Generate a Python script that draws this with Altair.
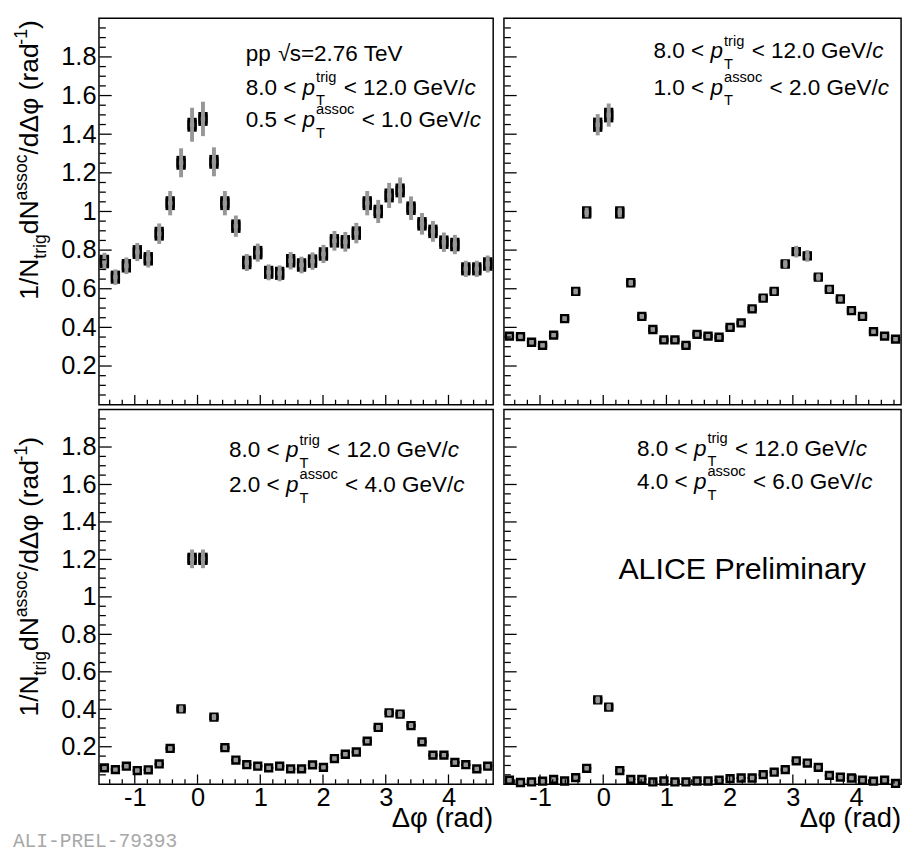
import altair as alt
import pandas as pd

PI = 3.141592653589793

# ---------------- data ----------------
dphi = [-1.484, -1.309, -1.134, -0.960, -0.785, -0.611, -0.436, -0.262, -0.087,
        0.087, 0.262, 0.436, 0.611, 0.785, 0.960, 1.134, 1.309, 1.484,
        1.658, 1.833, 2.007, 2.182, 2.356, 2.531, 2.705, 2.880, 3.054,
        3.229, 3.403, 3.578, 3.752, 3.927, 4.102, 4.276, 4.451, 4.625]

# panel 1: 0.5 < pT assoc < 1.0
y_1 = [0.741, 0.660, 0.719, 0.790, 0.755, 0.885, 1.043, 1.252, 1.449,
       1.479, 1.257, 1.043, 0.924, 0.736, 0.787, 0.685, 0.680, 0.745,
       0.723, 0.743, 0.780, 0.848, 0.843, 0.888, 1.043, 1.000, 1.083,
       1.109, 1.017, 0.936, 0.897, 0.841, 0.829, 0.703, 0.703, 0.728]
stat_1 = [0.035, 0.034, 0.035, 0.036, 0.035, 0.036, 0.036, 0.036, 0.036,
          0.036, 0.036, 0.036, 0.035, 0.035, 0.035, 0.034, 0.034, 0.035,
          0.035, 0.035, 0.035, 0.035, 0.035, 0.035, 0.036, 0.035, 0.036,
          0.036, 0.035, 0.035, 0.035, 0.035, 0.035, 0.034, 0.034, 0.035]
sys_1 = [0.045, 0.040, 0.043, 0.047, 0.045, 0.053, 0.063, 0.075, 0.088,
         0.089, 0.075, 0.063, 0.055, 0.044, 0.047, 0.041, 0.041, 0.045,
         0.043, 0.045, 0.047, 0.051, 0.051, 0.053, 0.063, 0.060, 0.065,
         0.067, 0.061, 0.056, 0.054, 0.050, 0.050, 0.042, 0.042, 0.044]

# panel 2: 1.0 < pT assoc < 2.0
y_2 = [0.355, 0.352, 0.323, 0.307, 0.360, 0.445, 0.586, 0.995, 1.449,
       1.499, 0.995, 0.631, 0.457, 0.389, 0.335, 0.335, 0.307, 0.364,
       0.355, 0.349, 0.400, 0.423, 0.496, 0.552, 0.586, 0.728, 0.792,
       0.770, 0.660, 0.597, 0.547, 0.487, 0.457, 0.378, 0.355, 0.339]
stat_2 = [0.012, 0.012, 0.012, 0.012, 0.012, 0.013, 0.015, 0.032, 0.037,
          0.038, 0.032, 0.015, 0.013, 0.012, 0.012, 0.012, 0.012, 0.012,
          0.012, 0.012, 0.012, 0.012, 0.013, 0.014, 0.015, 0.020, 0.022,
          0.022, 0.016, 0.015, 0.014, 0.013, 0.013, 0.012, 0.012, 0.012]
sys_2 = [0.010, 0.010, 0.010, 0.010, 0.010, 0.012, 0.015, 0.025, 0.055,
         0.060, 0.025, 0.015, 0.012, 0.010, 0.010, 0.010, 0.010, 0.010,
         0.010, 0.010, 0.010, 0.010, 0.012, 0.014, 0.015, 0.020, 0.030,
         0.030, 0.018, 0.015, 0.014, 0.012, 0.012, 0.010, 0.010, 0.010]

# panel 3: 2.0 < pT assoc < 4.0
y_3 = [0.087, 0.078, 0.096, 0.073, 0.077, 0.108, 0.191, 0.402, 1.203,
       1.203, 0.358, 0.195, 0.129, 0.104, 0.096, 0.087, 0.096, 0.082,
       0.082, 0.103, 0.090, 0.137, 0.160, 0.172, 0.230, 0.303, 0.381,
       0.374, 0.313, 0.226, 0.155, 0.155, 0.116, 0.104, 0.082, 0.096]
stat_3 = [0.006, 0.006, 0.006, 0.006, 0.006, 0.007, 0.009, 0.015, 0.033,
          0.033, 0.015, 0.009, 0.007, 0.006, 0.006, 0.006, 0.006, 0.006,
          0.006, 0.006, 0.006, 0.007, 0.008, 0.008, 0.009, 0.010, 0.012,
          0.012, 0.010, 0.009, 0.008, 0.008, 0.007, 0.006, 0.006, 0.006]
sys_3 = [0.006, 0.006, 0.006, 0.006, 0.006, 0.007, 0.010, 0.018, 0.050,
         0.050, 0.016, 0.010, 0.007, 0.006, 0.006, 0.006, 0.006, 0.006,
         0.006, 0.006, 0.006, 0.008, 0.009, 0.009, 0.011, 0.013, 0.016,
         0.016, 0.013, 0.011, 0.009, 0.009, 0.007, 0.006, 0.006, 0.006]

# panel 4: 4.0 < pT assoc < 6.0
y_4 = [0.021, 0.009, 0.012, 0.016, 0.026, 0.017, 0.035, 0.085, 0.450,
       0.412, 0.073, 0.026, 0.026, 0.012, 0.017, 0.012, 0.012, 0.017,
       0.017, 0.021, 0.030, 0.033, 0.033, 0.051, 0.064, 0.078, 0.125,
       0.113, 0.090, 0.047, 0.038, 0.033, 0.021, 0.016, 0.021, 0.004]
stat_4 = [0.004, 0.004, 0.004, 0.004, 0.004, 0.004, 0.005, 0.006, 0.015,
          0.015, 0.006, 0.004, 0.004, 0.004, 0.004, 0.004, 0.004, 0.004,
          0.004, 0.004, 0.004, 0.004, 0.004, 0.005, 0.005, 0.006, 0.007,
          0.007, 0.006, 0.005, 0.004, 0.004, 0.004, 0.004, 0.004, 0.004]
sys_4 = [0.004, 0.004, 0.004, 0.004, 0.004, 0.004, 0.005, 0.007, 0.018,
         0.017, 0.006, 0.004, 0.004, 0.004, 0.004, 0.004, 0.004, 0.004,
         0.004, 0.004, 0.004, 0.004, 0.004, 0.005, 0.005, 0.006, 0.008,
         0.008, 0.006, 0.005, 0.004, 0.004, 0.004, 0.004, 0.004, 0.004]

x_tick_labels = [-1, 0, 1, 2, 3, 4]
y_tick_labels = [0.2, 0.4, 0.6, 0.8, 1.0, 1.2, 1.4, 1.6, 1.8]

# ---------------- styling / layout ----------------
FONT = "Liberation Sans"
GRAY = "#979797"
W_L, W_R = 403, 406
H_T, H_B = 395, 383
LBL = 26      # tick label size
TXT = 23      # panel text size

XSCALE = alt.Scale(domain=[-PI / 2, 3 * PI / 2], nice=False, zero=False)
YSCALE = alt.Scale(domain=[0, 2.0], nice=False, zero=False)

# tick positions of the ROOT frame (major / minor)
X_MAJOR = [-1, 0, 1, 2, 3, 4]
X_MINOR = [round(-1.4 + 0.2 * i, 1) for i in range(31) if i % 5 != 2]
Y_MAJOR = [round(0.2 * i, 1) for i in range(1, 10)]
Y_MINOR = [round(0.05 * i, 2) for i in range(1, 40) if i % 4 != 0]

CW = {' ': 278, '.': 278, '<': 584, '=': 584, '/': 278, '(': 333, ')': 333, '-': 333,
      'G': 778, 'e': 556, 'V': 667, 'c': 500, 'p': 556, 't': 278, 'r': 333, 'i': 222,
      'g': 556, 'a': 556, 's': 500, 'o': 556, 'T': 611, 'N': 722, 'd': 556,
      '\u0394': 668, '\u03c6': 600, '\u221a': 549}


def tw(s, size):
    return sum(CW.get(ch, 556) for ch in s) * size / 1000.0


ONE = pd.DataFrame({"k": [0]})


def txt(x, y, s, size, style="normal", angle=0, align="left", color="black",
        font=FONT):
    return alt.Chart(ONE).mark_text(
        text=s, fontSize=size, fontStyle=style, angle=angle, align=align,
        baseline="alphabetic", color=color, font=font
    ).encode(x=alt.value(x), y=alt.value(y))


def pt_line(x0, base, lo, sup, hi, size=TXT):
    # lo ends with a space, hi has no leading space (svg collapses edge spaces)
    out = []
    x = x0
    out.append(txt(x, base, lo, size)); x += tw(lo, size)
    out.append(txt(x, base, "p", size, "italic")); x += tw("p", size)
    ss = round(size * 0.65)
    out.append(txt(x + 1, base - 0.55 * size, sup, ss))
    out.append(txt(x + 1, base + 0.48 * size, "T", ss))
    x += max(tw(sup, ss), tw("T", ss)) + 2 + tw(" ", size)
    out.append(txt(x, base, hi, size)); x += tw(hi, size)
    out.append(txt(x, base, "c", size, "italic"))
    return out


def y_title(xb, y_end, size=27):
    ss = 18
    pieces = [("1/N", size, 0), ("trig", ss, 8), ("dN", size, 0), ("assoc", ss, -12),
              ("/d\u0394\u03c6 (rad", size, 0), ("-1", ss, -12), (")", size, 0)]
    total = sum(tw(s, z) for s, z, _ in pieces)
    y = y_end + total
    out = []
    for s, z, dx in pieces:
        out.append(txt(xb + dx, y, s, z, angle=270))
        y -= tw(s, z)
    return out


def y_label_axis():
    return alt.Axis(orient="left", values=y_tick_labels, ticks=False, domain=False,
                    grid=False, labelFont=FONT, labelFontSize=LBL, labelColor="black",
                    labelPadding=3, labelOverlap=False,
                    labelExpr="datum.value == 1 ? '1' : format(datum.value, '.1f')",
                    title=None)


def x_label_axis():
    return alt.Axis(orient="bottom", values=x_tick_labels, ticks=False, domain=False,
                    grid=False, labelFont=FONT, labelFontSize=LBL, labelColor="black",
                    labelPadding=1, labelFlush=False, labelOverlap=False,
                    labelExpr="'' + datum.value", title=None)


def tick_layers(width, height):
    # inward-pointing frame ticks, positioned through the panel scales
    out = []
    for vals, ln in ((Y_MAJOR, 13), (Y_MINOR, 7)):
        out.append(alt.Chart(pd.DataFrame({"v": vals})).mark_rule(
            color="#000000", strokeWidth=1.3, opacity=1, strokeCap="butt").encode(
            y=alt.Y("v:Q", scale=YSCALE, axis=None), x=alt.value(0.5), x2=alt.value(ln)))
    for vals, ln in ((X_MAJOR, 10), (X_MINOR, 5)):
        out.append(alt.Chart(pd.DataFrame({"v": vals})).mark_rule(
            color="#000000", strokeWidth=1.3, opacity=1, strokeCap="butt").encode(
            x=alt.X("v:Q", scale=XSCALE, axis=None), y=alt.value(height - 0.5),
            y2=alt.value(height - ln)))
    return out


def panel(y, stat, sys, width, height, left, bottom, texts):
    df = pd.DataFrame({
        "dphi": dphi, "y": y,
        "st_lo": [a - b for a, b in zip(y, stat)], "st_hi": [a + b for a, b in zip(y, stat)],
        "sy_lo": [a - b for a, b in zip(y, sys)], "sy_hi": [a + b for a, b in zip(y, sys)],
    })
    base = alt.Chart(df)
    X = lambda axis: alt.X("dphi:Q", scale=XSCALE, axis=axis)
    Y = lambda axis: alt.Y("y:Q", scale=YSCALE, axis=axis)
    stat_l = base.mark_rule(color="black", strokeWidth=9.5, strokeCap="butt").encode(
        x=X(None), y=alt.Y("st_lo:Q", scale=YSCALE, axis=None), y2="st_hi:Q")
    pts = base.mark_point(shape="square", size=49, filled=True, fill=GRAY, stroke="black",
                          strokeWidth=2.5, opacity=1, fillOpacity=1, strokeOpacity=1).encode(
        x=X(None), y=Y(None))
    sys_l = base.mark_rule(color=GRAY, strokeWidth=4, strokeCap="butt").encode(
        x=X(None), y=alt.Y("sy_lo:Q", scale=YSCALE, axis=None), y2="sy_hi:Q")
    layers = [stat_l, pts, sys_l]
    if left or bottom:
        labels = base.mark_point(opacity=0, size=1).encode(
            x=X(x_label_axis() if bottom else None), y=Y(y_label_axis() if left else None))
        layers.append(labels)
    layers += list(texts) + tick_layers(width, height)
    return alt.layer(*layers).properties(
        width=width, height=height).resolve_axis(x="independent", y="independent")


# ---------------- annotations ----------------
t1 = [txt(150, 44, "pp", TXT), txt(183, 44, "\u221a", TXT), txt(195, 44, "s=2.76 TeV", TXT)]
t1 += pt_line(150, 78, "8.0 < ", "trig", "< 12.0 GeV/")
t1 += pt_line(150, 111, "0.5 < ", "assoc", "< 1.0 GeV/")
t1 += y_title(-62, 2)

t2 = pt_line(153, 41, "8.0 < ", "trig", "< 12.0 GeV/")
t2 += pt_line(153, 78, "1.0 < ", "assoc", "< 2.0 GeV/")

t3 = pt_line(133, 49, "8.0 < ", "trig", "< 12.0 GeV/")
t3 += pt_line(133, 84, "2.0 < ", "assoc", "< 4.0 GeV/")
t3 += y_title(-62, 28)
t3 += [txt(W_L, H_B + 44, "\u0394\u03c6 (rad)", 28, align="right"),
       txt(-88, H_B + 64, "ALI-PREL-79393", 20, color="#a8a8a8", font="Liberation Mono")]

t4 = pt_line(136, 47, "8.0 < ", "trig", "< 12.0 GeV/")
t4 += pt_line(136, 81, "4.0 < ", "assoc", "< 6.0 GeV/")
t4 += [txt(117, 173, "ALICE Preliminary", 31),
       txt(W_R, H_B + 44, "\u0394\u03c6 (rad)", 28, align="right")]

p1 = panel(y_1, stat_1, sys_1, W_L, H_T, True, False, t1)
p2 = panel(y_2, stat_2, sys_2, W_R, H_T, False, False, t2)
p3 = panel(y_3, stat_3, sys_3, W_L, H_B, True, True, t3)
p4 = panel(y_4, stat_4, sys_4, W_R, H_B, False, True, t4)

chart = alt.concat(p1, p2, p3, p4, columns=2, spacing=3).properties(
    padding={"left": 4, "top": 0, "right": 0, "bottom": 0},
    background="white",
).configure_view(stroke="black", strokeWidth=1.5)

chart.save("out.html", embed_options={"renderer": "svg", "actions": False})
